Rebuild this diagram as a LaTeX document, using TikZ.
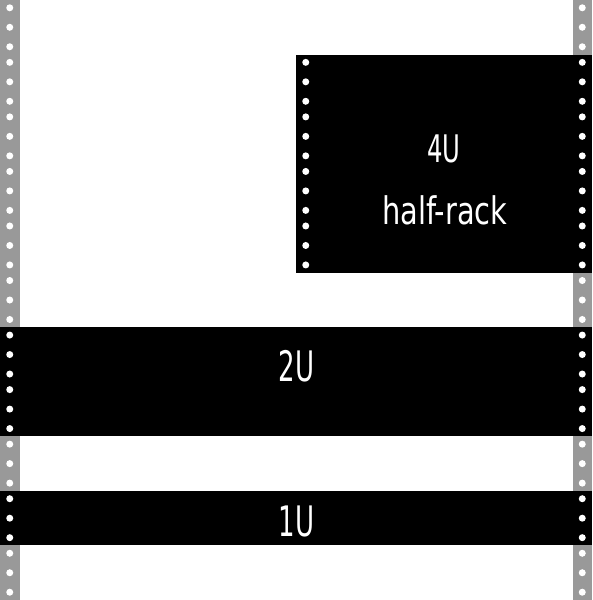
\documentclass[tikz,border=0pt]{standalone}
\usepackage{fontspec}
\setmainfont{DejaVu Sans}
\usepackage{graphicx}
\definecolor{railgray}{RGB}{153,153,153}
\begin{document}
\begin{tikzpicture}[x=1pt,y=-1pt,
  rail/.style={fill=railgray, draw=none},
  unitbox/.style={fill=black, draw=none},
  hole/.style={fill=white, draw=none},
  biglabel/.style={text=white, inner sep=0pt, anchor=base, font=\fontsize{42}{42}\selectfont},
  midlabel/.style={text=white, inner sep=0pt, anchor=base, font=\fontsize{38}{38}\selectfont}]
\def\U{54.5454}
\useasboundingbox (0,0) rectangle (592,600);
\fill[white] (0,0) rectangle (592,600);
% rails
\fill[rail] (0,0) rectangle (19.5,600);
\fill[rail] (572.5,0) rectangle (592,600);
% equipment
\fill[unitbox] (296,{1*\U}) rectangle (592,{5*\U});
\fill[unitbox] (0,{6*\U}) rectangle (592,{8*\U});
\fill[unitbox] (0,{9*\U}) rectangle (592,{10*\U});
% holes
\foreach \k in {0,...,10}
  \foreach \o in {7.792,27.273,46.753} {
    \fill[hole] (9.75,{\k*\U+\o}) circle (3.5pt);
    \fill[hole] (582.25,{\k*\U+\o}) circle (3.5pt);
  }
\foreach \k in {1,...,4}
  \foreach \o in {7.792,27.273,46.753}
    \fill[hole] (305.75,{\k*\U+\o}) circle (3.5pt);
% labels
\node[midlabel] (l4u) at (444,162.3) {\scalebox{0.64}[1]{4U}};
\node[midlabel] (lhalf) at (444.7,224) {\scalebox{0.76}[1]{half-rack}};
\node[biglabel] (l2u) at (296.3,381) {\scalebox{0.62}[1]{2U}};
\node[biglabel] (l1u) at (296.7,536.7) {\scalebox{0.62}[1]{1U}};
\end{tikzpicture}
\end{document}
